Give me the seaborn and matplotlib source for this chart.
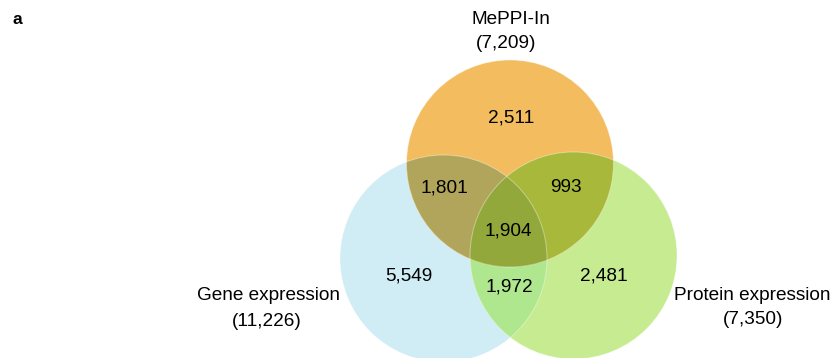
import numpy as np
import matplotlib
matplotlib.use('Agg')
import matplotlib.pyplot as plt
from matplotlib.patches import Circle, Polygon
import seaborn as sns

# Venn data
set_names = ['MePPI-In', 'Gene expression', 'Protein expression']
set_totals = [7209, 11226, 7350]
region_keys = ['M', 'G', 'P', 'MG', 'MP', 'GP', 'MGP']
region_counts = [2511, 5549, 2481, 1801, 993, 1972, 1904]

sns.set_theme(style='white')
plt.rcParams['font.family'] = ['Liberation Sans', 'DejaVu Sans']
plt.rcParams['text.color'] = 'black'

# region colours as they appear in the figure
col = {
    'M': '#F2BC5F', 'G': '#D0ECF4', 'P': '#C6EB90',
    'MG': '#B0A55A', 'MP': '#A8B83A', 'GP': '#AEE78E', 'MGP': '#93A83B',
}

# circle layout (pixel units, y downwards)
centers = {'M': (510, 163.5), 'G': (443.5, 258.5), 'P': (573.5, 255.5)}
radius = 103.5


def lens(c1, c2, r, n=120):
    c1, c2 = np.array(c1), np.array(c2)
    d = np.linalg.norm(c2 - c1)
    half = np.arccos(d / 2 / r)
    toward = np.arctan2(*(c2 - c1)[::-1])
    t1 = toward + np.linspace(-half, half, n)
    t2 = toward + np.pi + np.linspace(-half, half, n)
    p1 = c1 + r * np.c_[np.cos(t1), np.sin(t1)]
    p2 = c2 + r * np.c_[np.cos(t2), np.sin(t2)]
    return np.vstack([p1, p2])


fig = plt.figure(figsize=(8.37, 3.58), dpi=100)
ax = fig.add_axes([0, 0, 1, 1])
ax.set_xlim(0, 837)
ax.set_ylim(358, 0)
ax.set_aspect('equal')
ax.axis('off')

clip_m = Circle(centers['M'], radius, transform=ax.transData)

ax.add_patch(Circle(centers['G'], radius, color=col['G'], lw=0))
ax.add_patch(Circle(centers['P'], radius, color=col['P'], lw=0))
ax.add_patch(Polygon(lens(centers['G'], centers['P'], radius), color=col['GP'], lw=0))
ax.add_patch(Circle(centers['M'], radius, color=col['M'], lw=0))
for key, c in [('MG', centers['G']), ('MP', centers['P'])]:
    p = ax.add_patch(Circle(c, radius, color=col[key], lw=0))
    p.set_clip_path(clip_m)
p = ax.add_patch(Polygon(lens(centers['G'], centers['P'], radius), color=col['MGP'], lw=0))
p.set_clip_path(clip_m)

# faint outlines
for k in ['M', 'G', 'P']:
    ax.add_patch(Circle(centers[k], radius, fill=False, ec='white', lw=0.7, alpha=0.4))

fs = 13.7
# counts
count_pos = {'M': (511, 118), 'MG': (444, 188), 'MP': (566, 188), 'MGP': (508, 231),
             'G': (409, 276), 'GP': (509, 287), 'P': (604, 276)}
for key, n in zip(region_keys, region_counts):
    x, y = count_pos[key]
    ax.text(x, y, f'{n:,}', ha='center', va='center', fontsize=fs, color='black')

# set labels
label_pos = [(511, 19, 506, 43), (269, 296, 267, 321), (752, 296, 753, 320)]
for name, total, (x1, y1, x2, y2) in zip(set_names, set_totals, label_pos):
    ax.text(x1, y1, name, ha='center', va='center', fontsize=fs, color='black')
    ax.text(x2, y2, f'({total:,})', ha='center', va='center', fontsize=fs, color='black')

ax.text(17, 20, 'a', ha='center', va='center', fontsize=12.5, fontweight='bold', color='black')

fig.savefig('out.png', dpi=100)
